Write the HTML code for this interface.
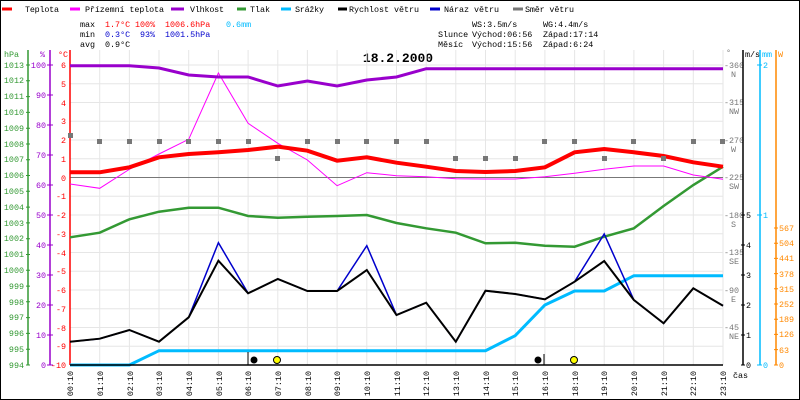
<!DOCTYPE html>
<html><head><meta charset="utf-8"><style>
html,body{margin:0;padding:0;background:#fff}
svg{display:block}
text{font-family:"Liberation Mono",monospace;font-size:8.4px}
</style></head><body>
<svg width="800" height="400" viewBox="0 0 800 400" xmlns="http://www.w3.org/2000/svg">
<rect x="0.5" y="0.5" width="799" height="399" fill="#fff" stroke="#000"/>
<!-- legend -->
<g stroke-width="3">
<line x1="2" y1="9" x2="12" y2="9" stroke="#f00"/>
<line x1="70" y1="9" x2="80" y2="9" stroke="#f0f"/>
<line x1="171" y1="9" x2="184" y2="9" stroke="#90c"/>
<line x1="237" y1="9" x2="246" y2="9" stroke="#393"/>
<line x1="281" y1="9" x2="291" y2="9" stroke="#0bf"/>
<line x1="338" y1="9" x2="347" y2="9" stroke="#000"/>
<line x1="430" y1="9" x2="440" y2="9" stroke="#00c"/>
<line x1="513" y1="9" x2="523" y2="9" stroke="#777"/>
</g>
<g fill="#000">
<text x="25" y="12" textLength="34">Teplota</text>
<text x="85" y="12" textLength="79">Přízemní teplota</text>
<text x="190" y="12" textLength="34">Vlhkost</text>
<text x="250" y="12" textLength="20">Tlak</text>
<text x="295" y="12" textLength="29">Srážky</text>
<text x="349" y="12" textLength="70">Rychlost větru</text>
<text x="444" y="12" textLength="55">Náraz větru</text>
<text x="525" y="12" textLength="49">Směr větru</text>
<text x="80" y="27">max</text><text x="80" y="37">min</text><text x="80" y="47">avg</text>
<text x="105" y="47">0.9°C</text>
<text x="472" y="27">WS:3.5m/s</text><text x="543" y="27">WG:4.4m/s</text>
<text x="438" y="37">Slunce</text><text x="472" y="37">Východ:06:56</text><text x="543" y="37">Západ:17:14</text>
<text x="438" y="47">Měsíc</text><text x="472" y="47">Východ:15:56</text><text x="543" y="47">Západ:6:24</text>
</g>
<g fill="#f00"><text x="105" y="27">1.7°C</text><text x="135" y="27">100%</text><text x="165" y="27">1006.6hPa</text></g>
<text x="226" y="27" fill="#0bf">0.6mm</text>
<g fill="#00c"><text x="105" y="37">0.3°C</text><text x="140" y="37">93%</text><text x="165" y="37">1001.5hPa</text></g>
<text x="398" y="62" text-anchor="middle" font-weight="bold" style="font-size:13px">18.2.2000</text>

<!-- grid -->
<g stroke="#e6e6e6" stroke-width="1">
<line x1="99.7" y1="50" x2="99.7" y2="365"/><line x1="129.4" y1="50" x2="129.4" y2="365"/><line x1="159" y1="50" x2="159" y2="365"/><line x1="188.7" y1="50" x2="188.7" y2="365"/><line x1="218.4" y1="50" x2="218.4" y2="365"/><line x1="248.1" y1="50" x2="248.1" y2="365"/><line x1="277.8" y1="50" x2="277.8" y2="365"/><line x1="307.4" y1="50" x2="307.4" y2="365"/><line x1="337.1" y1="50" x2="337.1" y2="365"/><line x1="366.8" y1="50" x2="366.8" y2="365"/><line x1="396.5" y1="50" x2="396.5" y2="365"/><line x1="426.2" y1="50" x2="426.2" y2="365"/><line x1="455.8" y1="50" x2="455.8" y2="365"/><line x1="485.5" y1="50" x2="485.5" y2="365"/><line x1="515.2" y1="50" x2="515.2" y2="365"/><line x1="544.9" y1="50" x2="544.9" y2="365"/><line x1="574.6" y1="50" x2="574.6" y2="365"/><line x1="604.2" y1="50" x2="604.2" y2="365"/><line x1="633.9" y1="50" x2="633.9" y2="365"/><line x1="663.6" y1="50" x2="663.6" y2="365"/><line x1="693.3" y1="50" x2="693.3" y2="365"/><line x1="723" y1="50" x2="723" y2="365"/>
<line x1="70" y1="65" x2="723" y2="65"/><line x1="70" y1="83.75" x2="723" y2="83.75"/><line x1="70" y1="102.5" x2="723" y2="102.5"/><line x1="70" y1="121.25" x2="723" y2="121.25"/><line x1="70" y1="140" x2="723" y2="140"/><line x1="70" y1="158.75" x2="723" y2="158.75"/><line x1="70" y1="196.25" x2="723" y2="196.25"/><line x1="70" y1="215" x2="723" y2="215"/><line x1="70" y1="233.75" x2="723" y2="233.75"/><line x1="70" y1="252.5" x2="723" y2="252.5"/><line x1="70" y1="271.25" x2="723" y2="271.25"/><line x1="70" y1="290" x2="723" y2="290"/><line x1="70" y1="308.75" x2="723" y2="308.75"/><line x1="70" y1="327.5" x2="723" y2="327.5"/><line x1="70" y1="346.25" x2="723" y2="346.25"/>
</g>
<line x1="70" y1="177.5" x2="723" y2="177.5" stroke="#777" stroke-width="1"/>

<!-- left axes -->
<line x1="28" y1="50" x2="28" y2="365" stroke="#393" stroke-width="1.5"/>
<line x1="50" y1="50" x2="50" y2="365" stroke="#90c" stroke-width="1.5"/>
<line x1="70" y1="50" x2="70" y2="365" stroke="#f00" stroke-width="1.5"/>
<text x="4" y="57" fill="#393">hPa</text><text x="40" y="57" fill="#90c">%</text><text x="58" y="57" fill="#f00">°C</text>
<g fill="#393" text-anchor="end">
<text x="24" y="68">1013</text><text x="24" y="83">1012</text><text x="24" y="99">1011</text><text x="24" y="115">1010</text><text x="24" y="131">1009</text><text x="24" y="147">1008</text><text x="24" y="162">1007</text><text x="24" y="178">1006</text><text x="24" y="194">1005</text><text x="24" y="210">1004</text><text x="24" y="226">1003</text><text x="24" y="241">1002</text><text x="24" y="257">1001</text><text x="24" y="273">1000</text><text x="24" y="289">999</text><text x="24" y="305">998</text><text x="24" y="320">997</text><text x="24" y="336">996</text><text x="24" y="352">995</text><text x="24" y="368">994</text>
</g>
<g stroke="#393"><path d="M26 65h4M26 80.8h4M26 96.6h4M26 112.4h4M26 128.2h4M26 144h4M26 159.7h4M26 175.5h4M26 191.3h4M26 207.1h4M26 222.9h4M26 238.7h4M26 254.5h4M26 270.3h4M26 286.1h4M26 301.8h4M26 317.6h4M26 333.4h4M26 349.2h4M26 365h4"/></g>
<g fill="#90c" text-anchor="end">
<text x="46" y="68">100</text><text x="46" y="98">90</text><text x="46" y="128">80</text><text x="46" y="158">70</text><text x="46" y="188">60</text><text x="46" y="218">50</text><text x="46" y="248">40</text><text x="46" y="278">30</text><text x="46" y="308">20</text><text x="46" y="338">10</text><text x="46" y="368">0</text>
</g>
<path stroke="#90c" d="M47 65h6M47 95h6M47 125h6M47 155h6M47 185h6M47 215h6M47 245h6M47 275h6M47 305h6M47 335h6M47 365h6"/>
<g fill="#f00" text-anchor="end">
<text x="66" y="68">6</text><text x="66" y="87">5</text><text x="66" y="106">4</text><text x="66" y="124">3</text><text x="66" y="143">2</text><text x="66" y="162">1</text><text x="66" y="181">0</text><text x="66" y="199">-1</text><text x="66" y="218">-2</text><text x="66" y="237">-3</text><text x="66" y="256">-4</text><text x="66" y="274">-5</text><text x="66" y="293">-6</text><text x="66" y="312">-7</text><text x="66" y="331">-8</text><text x="66" y="349">-9</text><text x="66" y="368">-10</text>
</g>

<!-- right axes -->
<g fill="#777">
<text x="726" y="55">°</text>
<text x="724" y="68">-360</text><text x="731" y="77">N</text>
<text x="724" y="105">-315</text><text x="729" y="114">NW</text>
<text x="724" y="143">-270</text><text x="731" y="152">W</text>
<text x="724" y="180">-225</text><text x="729" y="189">SW</text>
<text x="724" y="218">-180</text><text x="731" y="227">S</text>
<text x="724" y="255">-135</text><text x="729" y="264">SE</text>
<text x="724" y="293">-90</text><text x="731" y="302">E</text>
<text x="724" y="330">-45</text><text x="729" y="339">NE</text>
</g>
<line x1="743" y1="50" x2="743" y2="365" stroke="#000" stroke-width="1.5"/>
<text x="745" y="57">m/s</text>
<path stroke="#000" d="M741 215h4M741 245h4M741 275h4M741 305h4M741 335h4M741 365h4"/>
<g fill="#000"><text x="746" y="218">5</text><text x="746" y="248">4</text><text x="746" y="278">3</text><text x="746" y="308">2</text><text x="746" y="338">1</text><text x="746" y="368">0</text></g>
<line x1="760" y1="50" x2="760" y2="365" stroke="#0bf" stroke-width="1.5"/>
<text x="762" y="57" fill="#0bf">mm</text>
<path stroke="#0bf" d="M757 65h5M757 215h5M757 365h5"/>
<g fill="#0bf"><text x="763" y="68">2</text><text x="763" y="218">1</text><text x="763" y="368">0</text></g>
<line x1="776" y1="50" x2="776" y2="365" stroke="#f80" stroke-width="1.5"/>
<text x="778" y="57" fill="#f80">W</text>
<path stroke="#f80" d="M774 228h4M774 243.2h4M774 258.4h4M774 273.6h4M774 288.8h4M774 304h4M774 319.2h4M774 334.4h4M774 349.6h4M774 365h4"/>
<g fill="#f80"><text x="779" y="231">567</text><text x="779" y="246">504</text><text x="779" y="261">441</text><text x="779" y="277">378</text><text x="779" y="292">315</text><text x="779" y="307">252</text><text x="779" y="322">189</text><text x="779" y="337">126</text><text x="779" y="353">63</text><text x="779" y="368">0</text></g>

<!-- series -->
<polyline fill="none" stroke="#0bf" stroke-width="3" points="70,365 99.7,365 129.4,365 159,350.7 188.7,350.7 218.4,350.7 248.1,350.7 277.8,350.7 307.4,350.7 337.1,350.7 366.8,350.7 396.5,350.7 426.2,350.7 455.8,350.7 485.5,350.7 515.2,335.7 544.9,305 574.6,291 604.2,291 633.9,275.7 663.6,275.7 693.3,275.7 723,275.7"/>
<polyline fill="none" stroke="#393" stroke-width="2.5" points="70,237.3 99.7,232.7 129.4,219.3 159,211.7 188.7,207.7 218.4,207.7 248.1,216 277.8,217.7 307.4,216.7 337.1,216 366.8,215 396.5,223 426.2,228.3 455.8,232.7 485.5,243.3 515.2,242.7 544.9,245.7 574.6,246.7 604.2,236.7 633.9,228.3 663.6,206 693.3,185 723,166.7"/>
<polyline fill="none" stroke="#00c" stroke-width="1.5" points="70,341.7 99.7,338.7 129.4,330 159,341.7 188.7,317.3 218.4,242.7 248.1,293.3 277.8,279 307.4,291 337.1,291 366.8,245.7 396.5,315 426.2,302.7 455.8,341.7 485.5,290.7 515.2,294 544.9,299.3 574.6,281.7 604.2,234 633.9,300 663.6,323.3 693.3,288.3 723,305.7"/>
<polyline fill="none" stroke="#000" stroke-width="2" points="70,341.7 99.7,338.7 129.4,330 159,341.7 188.7,317.3 218.4,260.7 248.1,293.3 277.8,279 307.4,291 337.1,291 366.8,270 396.5,315 426.2,302.7 455.8,341.7 485.5,290.7 515.2,294 544.9,299.3 574.6,281.7 604.2,261 633.9,300 663.6,323.3 693.3,288.3 723,305.7"/>
<polyline fill="none" stroke="#f0f" stroke-width="1" points="70,184 99.7,188.3 129.4,169.3 159,154 188.7,139.3 218.4,73 248.1,123.3 277.8,143.3 307.4,160 337.1,185.7 366.8,172.7 396.5,175.7 426.2,176.7 455.8,178.7 485.5,179 515.2,179 544.9,176.7 574.6,173.3 604.2,169.3 633.9,166 663.6,166 693.3,175 723,179.3"/>
<polyline fill="none" stroke="#f00" stroke-width="4" points="70,172.3 99.7,172.3 129.4,167.3 159,157.3 188.7,154 218.4,152.3 248.1,150 277.8,146.7 307.4,150.7 337.1,160.7 366.8,157.3 396.5,162.7 426.2,166.7 455.8,171 485.5,172 515.2,171 544.9,167.3 574.6,152.3 604.2,149 633.9,152.3 663.6,156 693.3,162.3 723,166.7"/>
<polyline fill="none" stroke="#90c" stroke-width="3" points="70,65.7 99.7,65.7 129.4,65.7 159,68 188.7,75 218.4,77 248.1,77 277.8,86 307.4,81 337.1,86 366.8,80 396.5,77 426.2,68.7 455.8,68.7 485.5,68.7 515.2,68.7 544.9,68.7 574.6,68.7 604.2,68.7 633.9,68.7 663.6,68.7 693.3,68.7 723,68.7"/>
<g fill="#777">
<rect x="68" y="133" width="5" height="5"/><rect x="97" y="139" width="5" height="5"/><rect x="127" y="139" width="5" height="5"/><rect x="157" y="139" width="5" height="5"/><rect x="186" y="139" width="5" height="5"/><rect x="216" y="139" width="5" height="5"/><rect x="246" y="139" width="5" height="5"/><rect x="275" y="156" width="5" height="5"/><rect x="305" y="139" width="5" height="5"/><rect x="335" y="139" width="5" height="5"/><rect x="364" y="139" width="5" height="5"/><rect x="394" y="139" width="5" height="5"/><rect x="424" y="139" width="5" height="5"/><rect x="453" y="156" width="5" height="5"/><rect x="483" y="156" width="5" height="5"/><rect x="513" y="156" width="5" height="5"/><rect x="542" y="139" width="5" height="5"/><rect x="572" y="139" width="5" height="5"/><rect x="602" y="156" width="5" height="5"/><rect x="631" y="139" width="5" height="5"/><rect x="661" y="156" width="5" height="5"/><rect x="691" y="139" width="5" height="5"/><rect x="720" y="139" width="5" height="5"/>
</g>
<!-- sun/moon -->
<line x1="248" y1="352" x2="248" y2="365" stroke="#000"/>
<circle cx="254" cy="360" r="3.5" fill="#000"/>
<circle cx="277" cy="360" r="3.5" fill="#ff0" stroke="#000"/>
<circle cx="538" cy="360" r="3.5" fill="#000"/>
<line x1="544" y1="354" x2="544" y2="365" stroke="#000"/>
<circle cx="574" cy="360" r="3.5" fill="#ff0" stroke="#000"/>
<!-- x axis -->
<line x1="70" y1="365" x2="723" y2="365" stroke="#000" stroke-width="1.5"/>
<text x="733" y="378">čas</text>
<g fill="#000" text-anchor="end">
<text transform="translate(73,371) rotate(-90)">00:10</text><text transform="translate(103,371) rotate(-90)">01:10</text><text transform="translate(133,371) rotate(-90)">02:10</text><text transform="translate(162,371) rotate(-90)">03:10</text><text transform="translate(192,371) rotate(-90)">04:10</text><text transform="translate(222,371) rotate(-90)">05:10</text><text transform="translate(251,371) rotate(-90)">06:10</text><text transform="translate(281,371) rotate(-90)">07:10</text><text transform="translate(311,371) rotate(-90)">08:10</text><text transform="translate(340,371) rotate(-90)">09:10</text><text transform="translate(370,371) rotate(-90)">10:10</text><text transform="translate(400,371) rotate(-90)">11:10</text><text transform="translate(429,371) rotate(-90)">12:10</text><text transform="translate(459,371) rotate(-90)">13:10</text><text transform="translate(489,371) rotate(-90)">14:10</text><text transform="translate(518,371) rotate(-90)">15:10</text><text transform="translate(548,371) rotate(-90)">16:10</text><text transform="translate(578,371) rotate(-90)">18:10</text><text transform="translate(607,371) rotate(-90)">19:10</text><text transform="translate(637,371) rotate(-90)">20:10</text><text transform="translate(667,371) rotate(-90)">21:10</text><text transform="translate(696,371) rotate(-90)">22:10</text><text transform="translate(726,371) rotate(-90)">23:10</text>
</g>
</svg>
</body></html>
